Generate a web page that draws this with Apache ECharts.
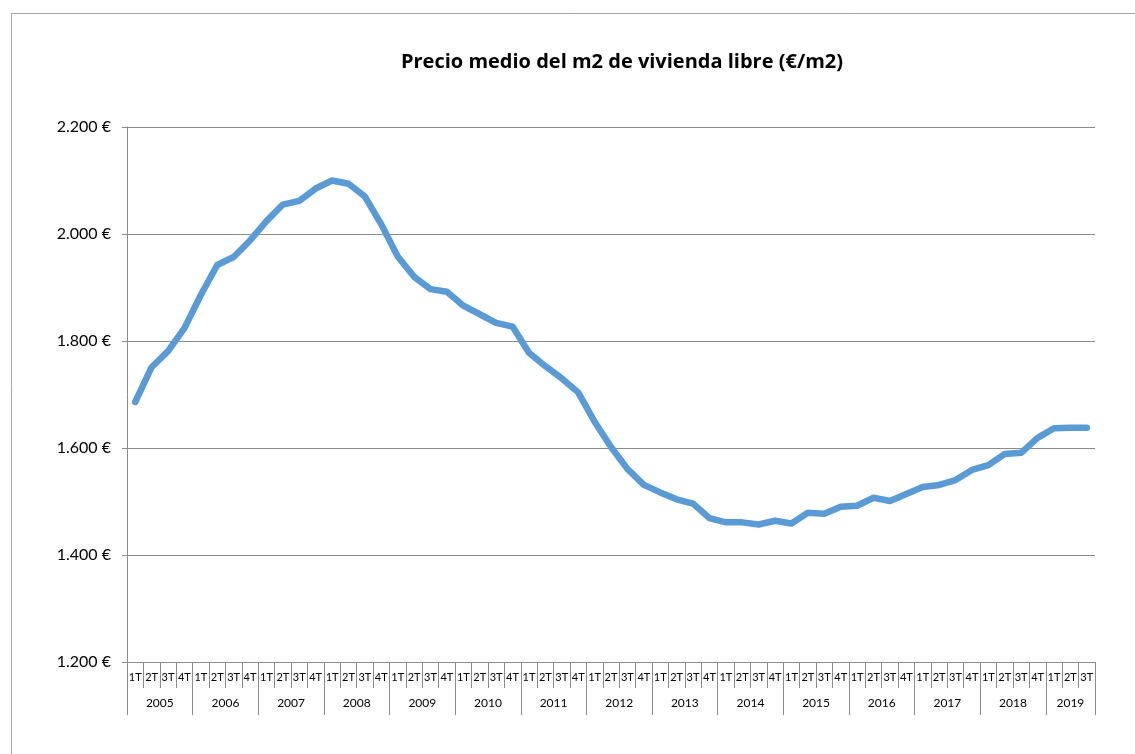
<!DOCTYPE html>
<html><head><meta charset="utf-8">
<script src="https://cdn.jsdelivr.net/npm/echarts@6/dist/echarts.min.js"></script>
<style>html,body{margin:0;padding:0;background:#fff}#c{width:1135px;height:754px}</style>
</head><body><div id="c"></div>
<script>
const years = ['2005','2006','2007','2008','2009','2010','2011','2012','2013','2014','2015','2016','2017','2018','2019'];
const quarters = ['1T','2T','3T','4T'];
const prices = [
  1686, 1751, 1781, 1824, 1886, 1942, 1957, 1988,
  2024, 2055, 2062, 2085, 2100, 2094, 2070, 2018,
  1958, 1920, 1897, 1892, 1866, 1850, 1834, 1827,
  1778, 1753, 1730, 1704, 1649, 1602, 1561, 1531,
  1517, 1504, 1496, 1469, 1461, 1461, 1457, 1464,
  1459, 1479, 1477, 1490, 1492, 1507, 1501, 1514,
  1527, 1531, 1540, 1559, 1568, 1589, 1591, 1619,
  1637, 1638, 1638
];
const yMin = 1200, yMax = 2200, yStep = 200;

const quarterLabels = [], yearLabels = [];
for (let i = 0; i < prices.length; i++) {
  quarterLabels.push(quarters[i % 4]);
  yearLabels.push(years[Math.floor(i / 4)]);
}
const n = prices.length;
const lastYearStart = Math.floor((n - 1) / 4) * 4;
const lastYearCount = n - lastYearStart;

function fmtEuro(v) {
  const s = String(Math.round(v));
  return s.replace(/\B(?=(\d{3})+(?!\d))/g, '.') + ' €';
}

const FONT = 'Lato, "Liberation Sans", sans-serif';
const GRAY = '#8c8c8c';
const chart = echarts.init(document.getElementById('c'), null, {renderer: 'canvas'});
chart.setOption({
  animation: false,
  backgroundColor: '#fff',
  textStyle: {fontFamily: FONT},
  graphic: [{
    type: 'rect', silent: true,
    shape: {x: 11.5, y: 13.5, width: 1300, height: 900},
    style: {fill: 'none', stroke: '#a6a6a6', lineWidth: 1}
  }],
  title: {
    text: 'Precio medio del m2 de vivienda libre (€/m2)',
    left: 617, top: 47, textAlign: 'center',
    textStyle: {fontFamily: '"Open Sans", Lato, sans-serif', fontWeight: 'bold', fontSize: 20, color: '#000'}
  },
  grid: {left: 127, right: 40, top: 127, bottom: 92, containLabel: false},
  xAxis: [{
    type: 'category', data: quarterLabels, boundaryGap: true, position: 'bottom',
    axisLine: {show: true, lineStyle: {color: GRAY, width: 1}},
    axisTick: {show: true, interval: 0, length: 26, lineStyle: {color: GRAY}},
    axisLabel: {interval: 0, fontSize: 11, color: '#000', margin: 10, fontFamily: FONT},
    splitLine: {show: false}
  }, {
    type: 'category', data: yearLabels, boundaryGap: true, position: 'bottom',
    axisLine: {show: false},
    axisTick: {show: true, length: 53, lineStyle: {color: GRAY},
      interval: function (i) { return i % 4 === 0; }},
    axisLabel: {
      color: '#000', fontSize: 12, margin: 35, fontFamily: FONT,
      interval: function (i) {
        if (i < lastYearStart) return i % 4 === 1;
        return i === lastYearStart + Math.floor(lastYearCount / 2);
      },
      formatter: function (v, i) {
        return (i < lastYearStart ? '{f|' : '{l|') + v + '}';
      },
      rich: {
        f: {padding: [0, 0, 0, 16.4], fontSize: 12, color: '#000', fontFamily: FONT},
        l: {fontSize: 12, color: '#000', fontFamily: FONT}
      }
    },
    splitLine: {show: false}
  }],
  yAxis: {
    type: 'value', min: yMin, max: yMax, interval: yStep,
    axisLine: {show: true, lineStyle: {color: GRAY}},
    axisTick: {show: true, length: 5, lineStyle: {color: GRAY}},
    axisLabel: {formatter: fmtEuro, fontSize: 16, color: '#000', margin: 16, fontFamily: FONT},
    splitLine: {show: true, lineStyle: {color: GRAY, width: 1}}
  },
  series: [{
    type: 'line', data: prices, xAxisIndex: 0,
    showSymbol: false, symbol: 'none', smooth: false,
    lineStyle: {color: '#5b9bd5', width: 6.5, cap: 'round', join: 'round'},
    itemStyle: {color: '#5b9bd5'}
  }]
});
</script></body></html>
